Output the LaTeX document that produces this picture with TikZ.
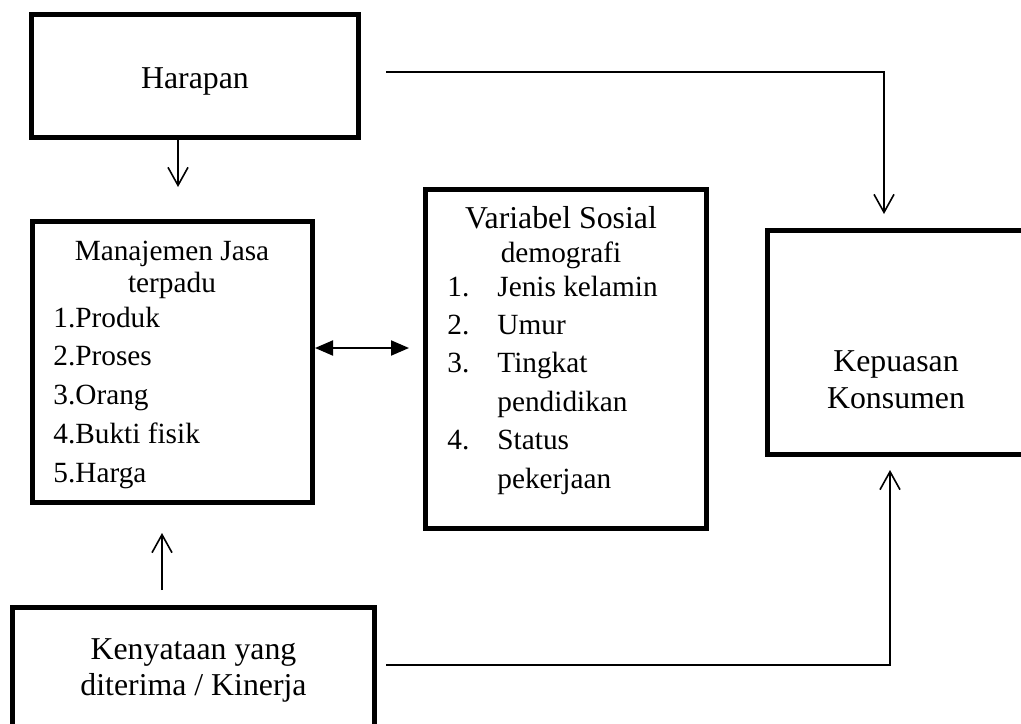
\documentclass[tikz,border=0pt]{standalone}
\usepackage{fontspec}
\setmainfont{Liberation Serif}
\usetikzlibrary{
  arrows.meta,
}
\newcommand{\bigfont}{\fontsize{15.9pt}{18.5pt}\selectfont}
\newcommand{\smallfont}{\fontsize{14.65pt}{17pt}\selectfont}

\begin{document}
\begin{tikzpicture}[
  x=0.5pt,
  y=-0.5pt,
  box/.style={
    draw,
    line width=2.5pt,
    inner sep=0pt,
  },
  big text/.style={
    inner sep=0pt,
    anchor=base,
    font=\bigfont,
  },
  small text/.style={
    inner sep=0pt,
    anchor=base,
    font=\smallfont,
  },
  item text/.style={
    small text,
    anchor=base west,
  },
  arrow/.style={
    -{Straight Barb[length=9pt,width=10pt]},
    line width=0.8pt,
  },
  double arrow/.style={
    {Triangle[length=9pt,width=7.5pt]}-{Triangle[length=9pt,width=7.5pt]},
    line width=1pt,
  },
]
  \clip (0,0) rectangle (1021,723);

  %%%%%%%%%%%%%%%%%%%% Boxes %%%%%%%%%%%%%%%%%%%%

  \node[box, minimum width=163.5pt, minimum height=61.5pt] (harapan) at (195,76) {};
  \node[box, minimum width=140pt, minimum height=140.5pt] (manajemen) at (172.5,362) {};
  \node[box, minimum width=140.5pt, minimum height=169.5pt] (variabel) at (566,359) {};
  \node[box, minimum width=128.5pt, minimum height=112pt] (kepuasan) at (896,342.5) {};
  \node[box, minimum width=181pt, minimum height=63.5pt] (kenyataan) at (193.5,671) {};

  %%%%%%%%%%%%%%%%%%%% Texts %%%%%%%%%%%%%%%%%%%%

  \node[big text] (harapan-text) at (195,88) {Harapan};

  \node[small text] (manajemen-head-1) at (172,260) {Manajemen Jasa};
  \node[small text] (manajemen-head-2) at (172,292) {terpadu};
  \foreach \txt [count=\i from 0] in {1.Produk, 2.Proses, 3.Orang, 4.Bukti fisik, 5.Harga} {
    \node[item text] (manajemen-item-\i) at (53,{327 + 38.8 * \i}) {\txt};
  }

  \node[big text] (variabel-head-1) at (561,228) {Variabel Sosial};
  \node[small text] (variabel-head-2) at (561,262) {demografi};
  \foreach \i/\n in {0/1., 1/2., 2/3., 4/4.} {
    \node[item text] (variabel-num-\i) at (447,{296 + 38.4 * \i}) {\n};
  }
  \foreach \txt [count=\i from 0] in {Jenis kelamin, Umur, Tingkat, pendidikan, Status, pekerjaan} {
    \node[item text] (variabel-item-\i) at (497,{296 + 38.4 * \i}) {\txt};
  }

  \node[big text] (kepuasan-text-1) at (896,371) {Kepuasan};
  \node[big text] (kepuasan-text-2) at (896,408) {Konsumen};

  \node[big text] (kenyataan-text-1) at (193.5,659) {Kenyataan yang};
  \node[big text] (kenyataan-text-2) at (193.5,695) {diterima / Kinerja};

  %%%%%%%%%%%%%%%%%%%% Connectors %%%%%%%%%%%%%%%%%%%%

  \coordinate (harapan-tip) at (178,187);
  \draw[arrow] (harapan.south -| harapan-tip) -- (harapan-tip);

  \coordinate (manajemen-tip) at (162,533);
  \draw[arrow, shorten <=7.5pt] (kenyataan.north -| manajemen-tip) -- (manajemen-tip);

  \coordinate (variabel-tip) at (409,348);
  \draw[double arrow] (manajemen.east |- variabel-tip) -- (variabel-tip);

  \coordinate (harapan-out) at (386,72);
  \coordinate (kepuasan-top-tip) at (884,214);
  \draw[arrow] (harapan-out) -| (kepuasan-top-tip);

  \coordinate (kenyataan-out) at (386,665);
  \coordinate (kepuasan-bottom-tip) at (890,470);
  \draw[arrow] (kenyataan-out) -| (kepuasan-bottom-tip);
\end{tikzpicture}
\end{document}
